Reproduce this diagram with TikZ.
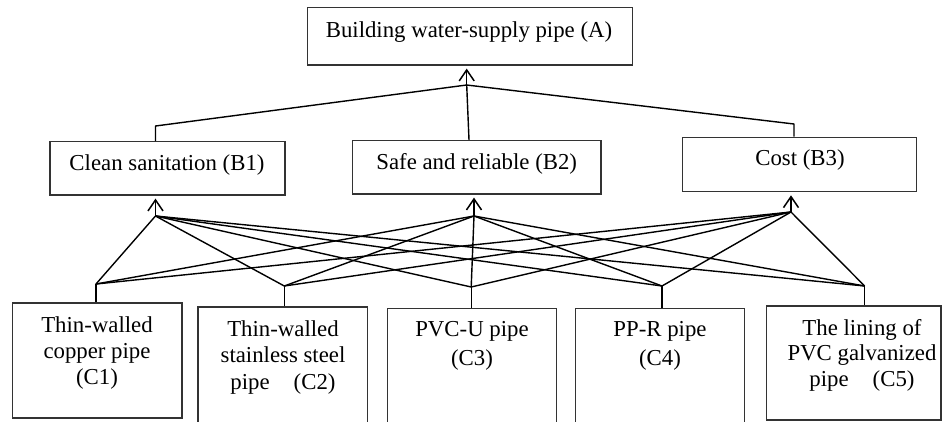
\documentclass[tikz,border=0pt]{standalone}
\usepackage{fontspec}
\setmainfont{Liberation Serif}
\usetikzlibrary{arrows.meta}
\newcommand{\mylines}[2]{{\fontsize{22.8}{#1}\selectfont\begin{tabular}[t]{@{}c@{}}#2\end{tabular}}}
\begin{document}
\begin{tikzpicture}[x=1pt,y=-1pt,
  box/.style={draw=black!80, line width=1.2pt, inner sep=0pt},
  lbl/.style={inner sep=0pt, anchor=base, font=\fontsize{22.8}{26}\selectfont},
  link/.style={draw=black, line width=1.4pt, line join=round},
  up/.style={link, -{Straight Barb[length=11pt,width=15pt,line width=1.5pt]}, shorten >=3pt}]
\path[use as bounding box] (0,0) rectangle (945,421);
\clip (0,0) rectangle (945,421);
% boxes
\node[box, minimum width=325.4pt, minimum height=57.7pt] (A) at (470,36.15) {};
\node[box, minimum width=235pt, minimum height=53.3pt] (B1) at (167.5,168.35) {};
\node[box, minimum width=248.5pt, minimum height=53.5pt] (B2) at (476.75,167.25) {};
\node[box, minimum width=234pt, minimum height=54.4pt] (B3) at (799.7,164.5) {};
\node[box, minimum width=169.3pt, minimum height=115pt] (C1) at (97.35,360.5) {};
\node[box, minimum width=169.7pt, minimum height=125pt] (C2) at (282.85,369.5) {};
\node[box, minimum width=169.4pt, minimum height=123.7pt] (C3) at (471.9,370.15) {};
\node[box, minimum width=169pt, minimum height=123.7pt] (C4) at (660.2,370.15) {};
\node[box, minimum width=174.7pt, minimum height=114pt] (C5) at (853.65,363) {};
% texts
\node[lbl] (tA) at (469,37.3) {Building water-supply pipe (A)};
\node[lbl] (tB1) at (167,170) {Clean sanitation (B1)};
\node[lbl] (tB2) at (476.7,169.3) {Safe and reliable (B2)};
\node[lbl] (tB3) at (800,165.7) {Cost (B3)};
\node[lbl] (tC1) at (97,332.3) {\mylines{26.3}{Thin-walled\\copper pipe\\(C1)}};
\node[lbl] (tC2) at (283,336) {\mylines{26.5}{Thin-walled\\stainless steel\\pipe\hspace{24pt}(C2)}};
\node[lbl] (tC3) at (472,336.7) {\mylines{29}{PVC-U pipe\\(C3)}};
\node[lbl] (tC4) at (660,336.7) {\mylines{29}{PP-R pipe\\(C4)}};
\node[lbl] (tC5) at (862,335) {\mylines{25.8}{The lining of\\PVC galvanized\\pipe\hspace{24pt}(C5)}};
% junctions
\coordinate (jA) at (466.7,85);
\coordinate (kB1) at (155.5,126);
\coordinate (kB2) at (469,126);
\coordinate (kB3) at (794,124);
\coordinate (jB1) at (155.5,216);
\coordinate (jB2) at (474,216);
\coordinate (jB3) at (791,212);
\coordinate (jC1) at (96,284);
\coordinate (jC2) at (284.3,286);
\coordinate (jC3) at (471.2,287);
\coordinate (jC4) at (662,286);
\coordinate (jC5) at (864.7,286);
% top level
\draw[up] (jA) -- (jA |- A.south);
\draw[link] (kB1 |- B1.north) -- (kB1) -- (jA) -- (kB3) -- (kB3 |- B3.north);
\draw[link] (jA) -- (kB2 |- B2.north);
% middle level
\draw[up] (jB1) -- (jB1 |- B1.south);
\draw[up] (jB2) -- (jB2 |- B2.south);
\draw[up] (jB3) -- (jB3 |- B3.south);
\foreach \c in {1,...,5}{
  \draw[link] (jC\c) -- (jC\c |- C\c.north);
  \foreach \b in {1,2,3}{
    \draw[link] (jB\b) -- (jC\c);
  }
}
\end{tikzpicture}
\end{document}
